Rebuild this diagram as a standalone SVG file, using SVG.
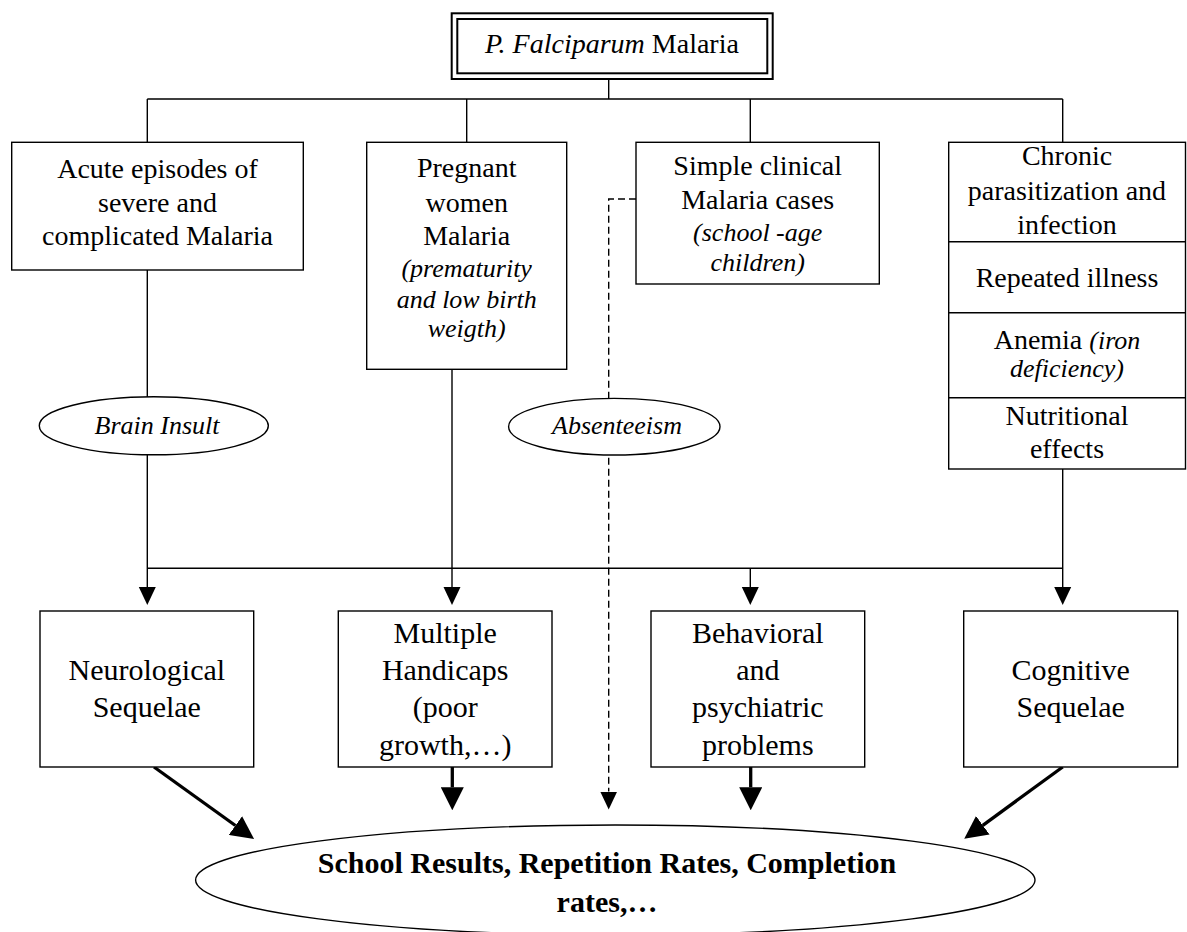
<svg xmlns="http://www.w3.org/2000/svg" width="1187" height="932" viewBox="0 0 1187 932">
<defs>
<style>
text{font-family:"Liberation Serif","Times New Roman",serif;fill:#000;text-anchor:middle}
.t{font-size:28px}
.b{font-size:30px}
.i{font-style:italic;font-size:26px}
.big{font-size:30px;font-weight:bold}
.box{fill:#fff;stroke:#000;stroke-width:1.4}
.dbl{fill:#fff;stroke:#000;stroke-width:2}
.ln{fill:none;stroke:#000;stroke-width:1.4}
.dash{fill:none;stroke:#000;stroke-width:1.4;stroke-dasharray:7 4}
.thick{fill:none;stroke:#000;stroke-width:3.3}
</style>
<marker id="ah" markerUnits="userSpaceOnUse" markerWidth="18" markerHeight="18" refX="0" refY="8.5" orient="auto" viewBox="0 0 18 17">
<path d="M0,0 L18,8.5 L0,17 z" fill="#000"/>
</marker>
<marker id="ahb" markerUnits="userSpaceOnUse" markerWidth="23" markerHeight="23" refX="0" refY="11" orient="auto" viewBox="0 0 22 22">
<path d="M0,0 L22,11 L0,22 z" fill="#000"/>
</marker>
</defs>
<rect width="1187" height="932" fill="#fff"/>
<g id="connectors">
<path class="ln" d="M608.7,79 V99 M147.3,99 H1062.7 M147.3,99 V142.3 M466.7,99 V142.3 M750.3,99 V142.3 M1062.7,99 V142.3"/>
<path class="ln" d="M147.3,568.3 H1062.7"/>
<path class="ln" d="M147.3,270 V587" marker-end="url(#ah)"/>
<path class="ln" d="M452,369.3 V587" marker-end="url(#ah)"/>
<path class="ln" d="M750.3,568.3 V587" marker-end="url(#ah)"/>
<path class="ln" d="M1062.7,469 V587" marker-end="url(#ah)"/>
<path class="dash" d="M636,199 H608.7 V791.5" marker-end="url(#ah)"/>
<path class="thick" d="M154,767 L235.4,825.5" marker-end="url(#ahb)"/>
<path class="thick" d="M452.3,767 V787.3" marker-end="url(#ahb)"/>
<path class="thick" d="M750.7,767 V787.3" marker-end="url(#ahb)"/>
<path class="thick" d="M1062.7,767 L982.8,825.3" marker-end="url(#ahb)"/>
</g>
<g id="n-top">
<rect class="dbl" x="451.7" y="13.3" width="321" height="65.7"/>
<rect class="dbl" x="457.3" y="19" width="310" height="54.3"/>
<text class="t" x="612" y="52.7"><tspan font-style="italic">P. Falciparum</tspan> Malaria</text>
</g>
<g id="n-acute">
<rect class="box" x="11.7" y="142.3" width="291.6" height="127.7"/>
<text class="t" x="157.5" y="178.3">Acute episodes of</text>
<text class="t" x="157.5" y="211.7">severe and</text>
<text class="t" x="157.5" y="245">complicated Malaria</text>
</g>
<g id="n-pregnant">
<rect class="box" x="366.7" y="142.3" width="200" height="227"/>
<text class="t" x="466.7" y="176.7">Pregnant</text>
<text class="t" x="466.7" y="211.7">women</text>
<text class="t" x="466.7" y="245">Malaria</text>
<text class="i" x="466.7" y="277">(prematurity</text>
<text class="i" x="466.7" y="307.5">and low birth</text>
<text class="i" x="466.7" y="337">weigth)</text>
</g>
<g id="n-simple">
<rect class="box" x="636" y="142.3" width="243.3" height="141.7"/>
<text class="t" x="757.7" y="175">Simple clinical</text>
<text class="t" x="757.7" y="208.5">Malaria cases</text>
<text class="i" x="757.7" y="240.5">(school -age</text>
<text class="i" x="757.7" y="270.5">children)</text>
</g>
<g id="n-chronic">
<rect class="box" x="948.7" y="142.3" width="236.8" height="326.7"/>
<path class="ln" d="M948.7,241.7 H1185.5 M948.7,312.7 H1185.5 M948.7,397.7 H1185.5"/>
<text class="t" x="1067" y="165">Chronic</text>
<text class="t" x="1067" y="200">parasitization and</text>
<text class="t" x="1067" y="233.5">infection</text>
<text class="t" x="1067" y="286.5">Repeated illness</text>
<text class="t" x="1067" y="348.5">Anemia <tspan font-style="italic" font-size="26">(iron</tspan></text>
<text class="i" x="1067" y="377">deficiency)</text>
<text class="t" x="1067" y="424.5">Nutritional</text>
<text class="t" x="1067" y="458">effects</text>
</g>
<g id="n-brain">
<ellipse class="box" cx="153.8" cy="425.8" rx="114.5" ry="29"/>
<text class="i" x="157" y="434">Brain Insult</text>
</g>
<g id="n-absent">
<ellipse class="box" cx="614.3" cy="426.7" rx="105.7" ry="28.3"/>
<text class="i" x="617" y="434">Absenteeism</text>
</g>
<g id="n-neuro">
<rect class="box" x="40" y="611" width="213.7" height="156"/>
<text class="b" x="146.8" y="680">Neurological</text>
<text class="b" x="146.8" y="717">Sequelae</text>
</g>
<g id="n-multiple">
<rect class="box" x="338.3" y="611" width="213.7" height="156"/>
<text class="b" x="445.2" y="642.7">Multiple</text>
<text class="b" x="445.2" y="680">Handicaps</text>
<text class="b" x="445.2" y="717">(poor</text>
<text class="b" x="445.2" y="755">growth,…)</text>
</g>
<g id="n-behavioral">
<rect class="box" x="651" y="611" width="213.7" height="156"/>
<text class="b" x="757.8" y="642.7">Behavioral</text>
<text class="b" x="757.8" y="680">and</text>
<text class="b" x="757.8" y="717">psychiatric</text>
<text class="b" x="757.8" y="755">problems</text>
</g>
<g id="n-cognitive">
<rect class="box" x="963.7" y="611" width="214" height="156"/>
<text class="b" x="1070.7" y="680">Cognitive</text>
<text class="b" x="1070.7" y="717">Sequelae</text>
</g>
<g id="n-school">
<ellipse class="box" cx="615.3" cy="880" rx="419.7" ry="55"/>
<text class="big" x="607" y="873.3">School Results, Repetition Rates, Completion</text>
<text class="big" x="607" y="911.7">rates,…</text>
</g>
</svg>
